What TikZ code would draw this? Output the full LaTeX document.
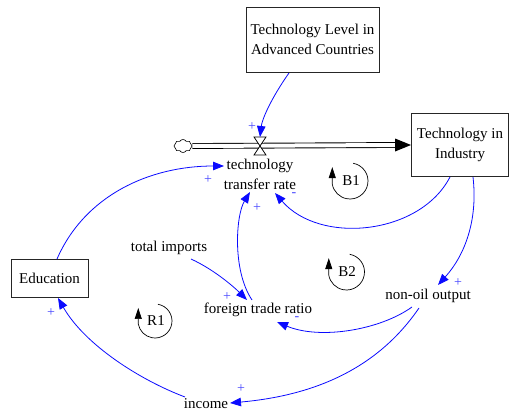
\documentclass[tikz,border=0pt]{standalone}
\usepackage{fontspec}
\setmainfont{Liberation Serif}
\usetikzlibrary{arrows.meta,shapes.symbols}
\definecolor{lnk}{RGB}{10,10,255}
\definecolor{sgn}{RGB}{70,70,255}
\begin{document}
\begin{tikzpicture}[x=1pt,y=-1pt,
  txt/.style={font=\fontsize{15}{20}\selectfont, align=center, inner sep=1pt},
  box/.style={txt, draw=black!85, line width=0.9pt, inner sep=0pt},
  link/.style={draw=lnk, line width=0.8pt, -{Triangle[length=11pt,width=8.5pt]}},
  sign/.style={text=sgn, font=\fontsize{14}{14}\selectfont, inner sep=0pt},
  loopar/.style={line width=0.7pt, -{Triangle[length=11pt,width=7pt]}},
  looptxt/.style={font=\fontsize{15}{15}\selectfont, inner sep=0pt}]
\useasboundingbox (0,0) rectangle (509,412);

% stocks / boxes
\node[box, minimum width=133pt, minimum height=65pt] (tla) at (312.5,39.5) {Technology Level in\\Advanced Countries};
\node[box, minimum width=97pt, minimum height=63pt] (tii) at (460,145) {Technology in\\Industry};
\node[box, minimum width=77pt, minimum height=38pt] (edu) at (49.5,278) {Education};

% variables
\node[txt] (ttr) at (260,174) {technology\\transfer rate};
\node[txt] (ti) at (169,248) {total imports};
\node[txt] (ftr) at (258,310) {foreign trade ratio};
\node[txt] (noo) at (428,296) {non-oil output};
\node[txt] (inc) at (206,404) {income};

% flow pipe
\node[cloud, draw, cloud puffs=8, cloud puff arc=120, aspect=1.5, minimum width=18pt, minimum height=13pt, inner sep=0pt, fill=white, line width=0.6pt] (cloud) at (183,146) {};
\draw[line width=0.9pt, double=white, double distance=4pt] (cloud.east) -- ([xshift=-14]tii.west);
\fill (tii.west) -- ++(-16,-6.5) -- ++(0,13) -- cycle;
\coordinate (valve) at (260,146);
\draw[fill=white, line width=0.7pt] (valve) -- ++(-6,-9) -- ++(12,0) -- cycle
  (valve) -- ++(-6,9) -- ++(12,0) -- cycle;

% causal links
\draw[link] ([shift={(-23.5,33.5)}]tla.center) .. controls +(-19,27) and +(2,-17) .. ([shift={(0,-9)}]valve);
\draw[link] ([shift={(7.5,-19)}]edu.center) .. controls +(28,-64) and +(-74,0) .. ([shift={(-36,-8)}]ttr.center);
\draw[link] ([shift={(-6,-10)}]ftr.center) .. controls +(-20,-30) and +(-14,23) .. ([shift={(-10,18)}]ttr.center);
\draw[link] ([shift={(-10,32)}]tii.center) .. controls +(-30,58) and +(45,52) .. ([shift={(15,19)}]ttr.center);
\draw[link] ([shift={(13,32)}]tii.center) .. controls +(5,43) and +(27,-30) .. ([shift={(10,-11)}]noo.center);
\draw[link] ([shift={(22,11)}]ti.center) .. controls +(24,11) and +(-12,-12) .. ([shift={(-11,-10)}]ftr.center);
\draw[link] ([shift={(-16,11)}]noo.center) .. controls +(-32,23) and +(43,18) .. ([shift={(19,12)}]ftr.center);
\draw[link] ([shift={(-9,12)}]noo.center) .. controls +(-39,57) and +(90,-8) .. ([shift={(24,-1)}]inc.center);
\draw[link] ([shift={(-21,-7)}]inc.center) .. controls +(-45,-17) and +(27,47) .. ([shift={(8.5,20)}]edu.center);

% polarity signs
\node[sign] (s1) at (252,127) {+};
\node[sign] (s2) at (208,180) {+};
\node[sign] (s3) at (257,208) {+};
\node[sign] (s4) at (294,195) {-};
\node[sign] (s5) at (458,283) {+};
\node[sign] (s6) at (227,297) {+};
\node[sign] (s7) at (297,319) {-};
\node[sign] (s8) at (241,389) {+};
\node[sign] (s9) at (51,313) {+};

% loop identifiers
\node[looptxt] (b1) at (351,181) {B1};
\draw[loopar] (350,181) ++(-80:18) arc[start angle=-80, end angle=170, radius=18] -- ++(0,-17);
\node[looptxt] (b2) at (347,272) {B2};
\draw[loopar] (346.5,272) ++(-80:18) arc[start angle=-80, end angle=170, radius=18] -- ++(0,-17);
\node[looptxt] (r1) at (156,321) {R1};
\draw[loopar] (155,321) ++(-80:17) arc[start angle=-80, end angle=170, radius=17] -- ++(0,-16);
\end{tikzpicture}
\end{document}
